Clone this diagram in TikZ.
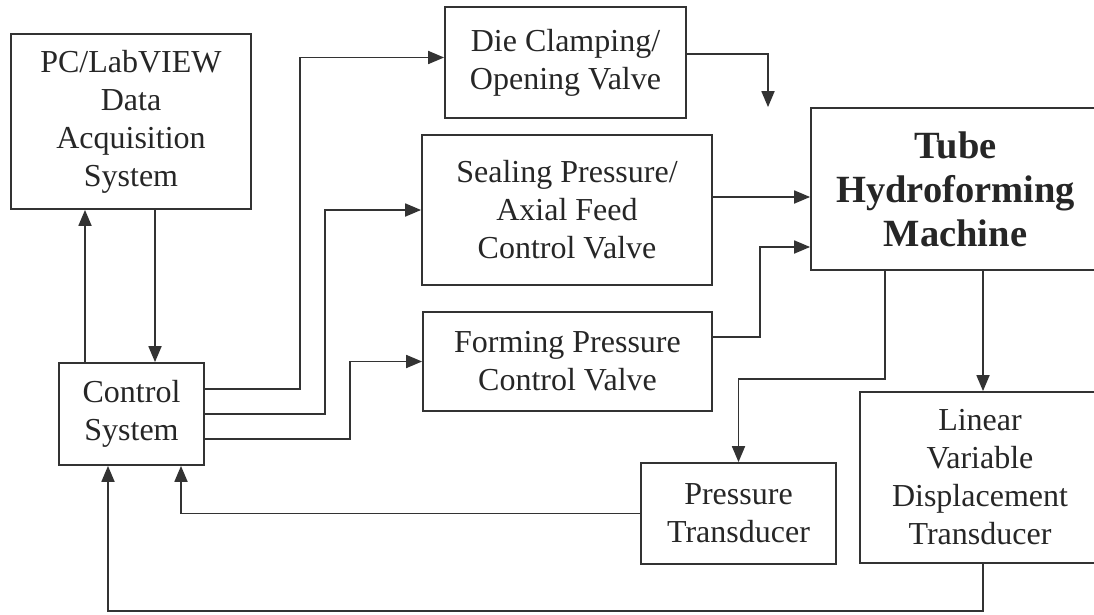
\documentclass[tikz,border=0pt]{standalone}
\usepackage{fontspec}
\setmainfont{Liberation Serif}
\usetikzlibrary{arrows.meta}
\definecolor{ink}{HTML}{333333}
\definecolor{txt}{HTML}{262626}
\begin{document}
\begin{tikzpicture}[x=1pt,y=-1pt,
  blk/.style={draw=ink, line width=1.8pt, rectangle, inner sep=0pt, align=center, text=txt,
    font=\fontsize{32}{38}\selectfont},
  bigblk/.style={blk, font=\bfseries\fontsize{38.5}{44}\selectfont},
  arr/.style={draw=ink, line width=1.8pt, -{Triangle[length=16pt,width=13pt]}}]
\fill[white] (0,0) rectangle (1094,615);
\clip (0,0) rectangle (1094,615);
\node[blk, minimum width=240pt, minimum height=175pt] (pc) at (131,121.5) {PC/LabVIEW\\Data\\Acquisition\\System};
\node[blk, minimum width=241pt, minimum height=111pt] (die) at (565.5,62.5) {Die Clamping/\\Opening Valve};
\node[blk, minimum width=290pt, minimum height=150pt] (seal) at (567,210) {Sealing Pressure/\\Axial Feed\\Control Valve};
\node[blk, minimum width=289pt, minimum height=99pt] (form) at (567.5,361.5) {Forming Pressure\\Control Valve};
\node[bigblk, minimum width=289pt, minimum height=162pt] (tube) at (955.5,189) {Tube\\Hydroforming\\Machine};
\node[blk, minimum width=145pt, minimum height=102pt] (ctrl) at (131.5,414) {Control\\System};
\node[blk, minimum width=195pt, minimum height=101pt] (pt) at (738.5,513.5) {Pressure\\Transducer};
\node[blk, minimum width=240pt, minimum height=171pt] (lvdt) at (980,477.5) {Linear\\Variable\\Displacement\\Transducer};
\coordinate (dieturn) at (768,54);

\draw[arr] ([xshift=-46.5pt]ctrl.north) -- ([xshift=-46pt]pc.south);
\draw[arr] ([xshift=24pt]pc.south) -- ([xshift=23.5pt]ctrl.north);
\draw[arr] ([yshift=25pt]ctrl.east) -| ([xshift=-144pt,yshift=5pt]die.west) -- ([yshift=5pt]die.west);
\draw[arr] (ctrl.east) -| ([xshift=-96pt]seal.west) -- (seal.west);
\draw[arr] ([yshift=-25pt]ctrl.east) -| ([xshift=-72pt]form.west) -- (form.west);
\draw[arr] (die.east |- dieturn) -- (dieturn) -- (dieturn |- tube.north);
\draw[arr] ([yshift=13pt]seal.east) -- ([yshift=-8pt]tube.west);
\draw[arr] ([yshift=24.5pt]form.east) -| ([xshift=-50pt,yshift=-58pt]tube.west) -- ([yshift=-58pt]tube.west);
\draw[arr] ([xshift=-70.5pt]tube.south) |- ([yshift=83pt]pt.north) -- (pt.north);
\draw[arr] ([xshift=27.5pt]tube.south) -- ([xshift=3pt]lvdt.north);
\draw[arr] (pt.west) -| ([xshift=49.5pt]ctrl.south);
\draw[arr] ([xshift=3pt]lvdt.south) -- ++(0,47) -| ([xshift=-23.5pt]ctrl.south);
\end{tikzpicture}
\end{document}
